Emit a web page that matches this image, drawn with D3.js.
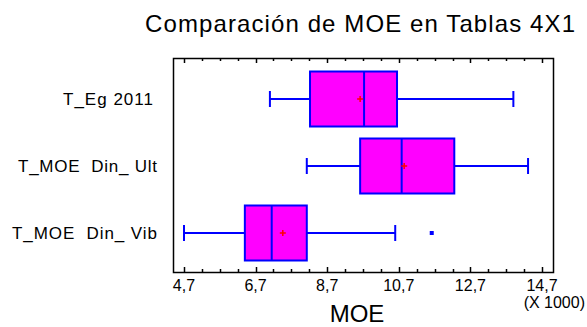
<!DOCTYPE html>
<html>
<head>
<meta charset="utf-8">
<script src="https://cdn.jsdelivr.net/npm/d3@7"></script>
<style>
  body { margin: 0; background: #fff; }
  text { font-family: "Liberation Sans", Arial, sans-serif; fill: #000; }
</style>
</head>
<body>
<svg width="587" height="327"></svg>
<script>
// data (MOE in thousands)
var categories = ["T_Eg 2011", "T_MOE  Din_ Ult", "T_MOE  Din_ Vib"];
var whiskerLow = [7.10, 8.13, 4.70];
var q1 = [8.22, 9.62, 6.40];
var median = [9.73, 10.78, 7.15];
var q3 = [10.65, 12.25, 8.13];
var whiskerHigh = [13.90, 14.31, 10.60];
var means = [9.62, 10.85, 7.46];
var outliers = [[], [], [11.62]];
var tickValues = [4.7, 6.7, 8.7, 10.7, 12.7, 14.7];

var svg = d3.select("svg");
var pLeft = 173, pRight = 553, pTop = 58, pBottom = 272;
var boxH = 55;
var labelWidths = [90, 139, 145];

var x = d3.scaleLinear().domain([4.393, 15.007]).range([pLeft, pRight]);
var y = d3.scalePoint().domain(categories).range([99, 233]);

// frame
svg.append("rect")
  .attr("x", pLeft + 0.5).attr("y", pTop + 0.5)
  .attr("width", pRight - pLeft).attr("height", pBottom - pTop)
  .attr("fill", "none").attr("stroke", "#000").attr("stroke-width", 1.5);

// ticks (majors every 2, minors every 0.5), inside on top and bottom
var minor = d3.range(0, 21).map(function(i) { return 4.7 + i * 0.5; });
minor.forEach(function(v) {
  var isMajor = tickValues.some(function(t) { return Math.abs(t - v) < 1e-6; });
  var len = isMajor ? 5 : 3;
  var px = Math.round(x(v)) + 0.5;
  svg.append("line").attr("x1", px).attr("x2", px)
    .attr("y1", pBottom).attr("y2", pBottom - len).attr("stroke", "#000").attr("stroke-width", 1.5);
  svg.append("line").attr("x1", px).attr("x2", px)
    .attr("y1", pTop).attr("y2", pTop + len).attr("stroke", "#000").attr("stroke-width", 1.5);
});

// tick labels
svg.selectAll(".tl").data(tickValues).enter().append("text")
  .attr("x", function(d) { return x(d); })
  .attr("y", 291)
  .attr("text-anchor", "middle")
  .attr("font-size", 16)
  .text(function(d) { return d.toFixed(1).replace(".", ","); });

svg.append("text").attr("x", 585).attr("y", 308).attr("text-anchor", "end")
  .attr("font-size", 16)
  .text("(X 1000)");

svg.append("text").attr("x", 357).attr("y", 322).attr("text-anchor", "middle")
  .attr("font-size", 24).text("MOE");

svg.append("text").attr("x", 145).attr("y", 32)
  .attr("font-size", 24).attr("textLength", 430).attr("lengthAdjust", "spacing")
  .text("Comparación de MOE en Tablas 4X1");

// category labels
svg.selectAll(".cl").data(categories).enter().append("text")
  .attr("x", function(d, i) { return (i == 0 ? 153 : 157) - labelWidths[i]; })
  .attr("y", function(d) { return y(d) + 6; })
  .attr("font-size", 17)
  .attr("xml:space", "preserve")
  .attr("textLength", function(d, i) { return labelWidths[i]; })
  .attr("lengthAdjust", "spacing")
  .text(function(d) { return d; });

// boxes
var blue = "#0000ff";
categories.forEach(function(c, i) {
  var cy = y(c);
  var g = svg.append("g");
  // whiskers
  g.append("line").attr("x1", x(whiskerLow[i])).attr("x2", x(q1[i]))
    .attr("y1", cy).attr("y2", cy).attr("stroke", blue).attr("stroke-width", 2);
  g.append("line").attr("x1", x(q3[i])).attr("x2", x(whiskerHigh[i]))
    .attr("y1", cy).attr("y2", cy).attr("stroke", blue).attr("stroke-width", 2);
  [whiskerLow[i], whiskerHigh[i]].forEach(function(v) {
    g.append("line").attr("x1", x(v)).attr("x2", x(v))
      .attr("y1", cy - 8).attr("y2", cy + 8).attr("stroke", blue).attr("stroke-width", 2);
  });
  g.append("rect")
    .attr("x", x(q1[i])).attr("y", cy - boxH / 2)
    .attr("width", x(q3[i]) - x(q1[i])).attr("height", boxH)
    .attr("fill", "#ff00ff").attr("stroke", blue).attr("stroke-width", 2);
  g.append("line").attr("x1", x(median[i])).attr("x2", x(median[i]))
    .attr("y1", cy - boxH / 2).attr("y2", cy + boxH / 2)
    .attr("stroke", blue).attr("stroke-width", 2);
  // mean marker
  var mx = x(means[i]);
  g.append("line").attr("x1", mx - 3).attr("x2", mx + 3).attr("y1", cy).attr("y2", cy)
    .attr("stroke", "#ff0000").attr("stroke-width", 1.5);
  g.append("line").attr("x1", mx).attr("x2", mx).attr("y1", cy - 3).attr("y2", cy + 3)
    .attr("stroke", "#ff0000").attr("stroke-width", 1.5);
  outliers[i].forEach(function(v) {
    g.append("rect").attr("x", x(v) - 2).attr("y", cy - 2)
      .attr("width", 4).attr("height", 4).attr("fill", blue);
  });
});
</script>
</body>
</html>
